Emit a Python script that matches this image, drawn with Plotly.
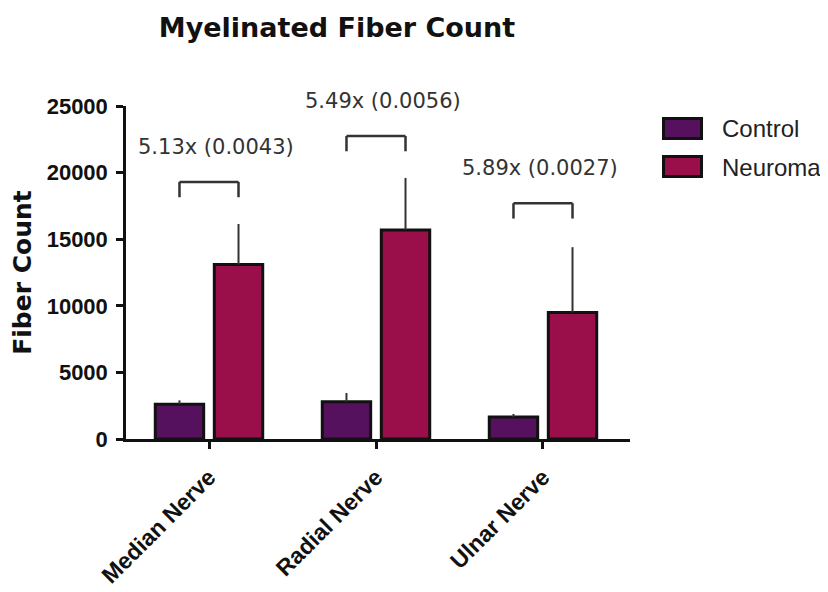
import plotly.graph_objects as go

# ---------------- data ----------------
categories = ["Median Nerve", "Radial Nerve", "Ulnar Nerve"]
control_mean = [2600, 2800, 1650]
control_err = [300, 650, 230]
neuroma_mean = [13100, 15700, 9500]
neuroma_err = [3040, 3900, 4900]
fold_labels = ["5.13x (0.0043)", "5.49x (0.0056)", "5.89x (0.0027)"]
bracket_top = [19300, 22750, 17700]
bracket_leg = 1150
label_offset = 2650
y_ticks = [0, 5000, 10000, 15000, 20000, 25000]
series_names = ["Control", "Neuroma"]
series_colors = ["#55115E", "#9A0E4A"]

# ---------------- styling ----------------
Y_MIN, Y_MAX = 0, 25000
BARGAP = 0.293
BARGROUPGAP = 0.18
EDGE = "#111111"
INK = "#333333"
BOLD = "Liberation Sans, Arial, sans-serif"
LABEL_DX = [0.04, 0.04, -0.02]  # small horizontal nudges of the fold labels

fig = go.Figure()
for name, color, mean, err in zip(series_names, series_colors,
                                  [control_mean, neuroma_mean],
                                  [control_err, neuroma_err]):
    fig.add_trace(go.Bar(
        name=name, x=categories, y=mean,
        marker=dict(color=color, line=dict(color=EDGE, width=3)),
        error_y=dict(type="data", array=err, arrayminus=[0] * len(err),
                     symmetric=False, color=INK, thickness=2, width=0),
        showlegend=False,
    ))

# significance brackets, derived from grouped-bar geometry
slot = (1 - BARGAP) / 2
for i, (top, lab) in enumerate(zip(bracket_top, fold_labels)):
    xl = i - slot / 2
    xr = i + slot / 2
    line = dict(color=INK, width=2.5)
    fig.add_shape(type="line", xref="x", yref="y", x0=xl, x1=xr, y0=top, y1=top, line=line)
    fig.add_shape(type="line", xref="x", yref="y", x0=xl, x1=xl, y0=top, y1=top - bracket_leg, line=line)
    fig.add_shape(type="line", xref="x", yref="y", x0=xr, x1=xr, y0=top, y1=top - bracket_leg, line=line)
    # label may sit above the axis range, so place it in y-domain units
    y_dom = (top + label_offset - Y_MIN) / (Y_MAX - Y_MIN)
    fig.add_annotation(x=i + LABEL_DX[i], y=y_dom, xref="x", yref="y domain",
                       text=lab, showarrow=False, xanchor="center", yanchor="middle",
                       font=dict(family="DejaVu Sans, sans-serif", size=21, color=INK))

# custom legend (large swatches like the original)
legend_rows = [(0.9625, 0.9024, 0.9324), (0.8483, 0.7883, 0.8168)]
for (y0, y1, yt), name, color in zip(legend_rows, series_names, series_colors):
    fig.add_shape(type="rect", xref="paper", yref="paper",
                  x0=1.0665, x1=1.1419, y0=y1, y1=y0,
                  fillcolor=color, line=dict(color=EDGE, width=3))
    fig.add_annotation(x=1.1786, y=yt, xref="paper", yref="paper", text=name,
                       showarrow=False, xanchor="left", yanchor="middle",
                       font=dict(family="Liberation Sans, Arial, sans-serif", size=24, color="#222222"))

W, H = 820, 584  # page body adds an 8px margin
fig.update_layout(
    width=W, height=H,
    margin=dict(l=118, r=198, t=98, b=153),
    paper_bgcolor="white", plot_bgcolor="white",
    barmode="group", bargap=BARGAP, bargroupgap=BARGROUPGAP,
    showlegend=False,
    title=dict(text="<b>Myelinated Fiber Count</b>", xref="container", yref="container",
               x=329 / W, y=1 - 20 / H, xanchor="center", yanchor="middle",
               font=dict(family="DejaVu Sans, sans-serif", size=27, color="#111111")),
)
fig.update_xaxes(
    type="category", range=[-0.497, 2.521], automargin=False,
    showline=True, linecolor=EDGE, linewidth=2.5,
    ticks="outside", ticklen=7, tickwidth=2.5, tickcolor=EDGE,
    tickangle=-45, showgrid=False, zeroline=False, ticklabelstandoff=6,
    tickfont=dict(family=BOLD, size=23, color="#111111", weight="bold"),
)
fig.update_yaxes(
    range=[Y_MIN, Y_MAX], tickvals=y_ticks, ticktext=[str(v) for v in y_ticks],
    automargin=False,
    showline=True, linecolor=EDGE, linewidth=2.5,
    ticks="outside", ticklen=7, tickwidth=2.5, tickcolor=EDGE,
    showgrid=False, zeroline=False, ticklabelstandoff=4,
    tickfont=dict(family=BOLD, size=22, color="#111111", weight="bold"),
    title=dict(text="<b>Fiber Count</b>", standoff=10,
               font=dict(family="DejaVu Sans, sans-serif", size=25, color="#111111")),
)

fig.write_html("out.html")
